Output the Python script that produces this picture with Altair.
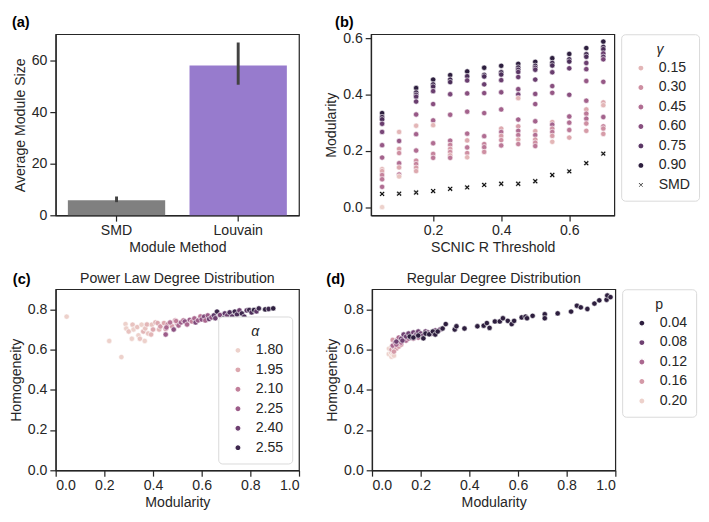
import math
import altair as alt
import pandas as pd

FONT = "Liberation Sans"
TXT = "#262626"

# ---------------- panel (a) ----------------
a_methods = ["SMD", "Louvain"]
a_means = [5.8, 58.2]
a_lo = [5.1, 50.7]
a_hi = [7.3, 67.1]

# ---------------- panel (b) ----------------
b_thresholds = [0.05, 0.10, 0.15, 0.20, 0.25, 0.30, 0.35, 0.40, 0.45, 0.50, 0.55, 0.60, 0.65, 0.70]
b_mod = [
    [0.334, 0.320, 0.312, 0.296, 0.267, 0.220, 0.176, 0.135, 0.128, 0.114, 0.099, 0.072, 0.000],
    [0.267, 0.235, 0.207, 0.192, 0.156, 0.141, 0.116, 0.109],
    [0.423, 0.407, 0.399, 0.392, 0.375, 0.329, 0.289, 0.259, 0.201, 0.165, 0.153, 0.140, 0.128],
    [0.453, 0.436, 0.428, 0.412, 0.366, 0.308, 0.291, 0.227, 0.189, 0.175],
    [0.469, 0.453, 0.444, 0.401, 0.328, 0.236, 0.221, 0.207, 0.196, 0.184, 0.175],
    [0.482, 0.465, 0.450, 0.404, 0.339, 0.261, 0.237, 0.212, 0.192, 0.177],
    [0.495, 0.470, 0.464, 0.436, 0.405, 0.334, 0.252, 0.224, 0.213, 0.196],
    [0.502, 0.479, 0.471, 0.451, 0.408, 0.347, 0.279, 0.267, 0.253, 0.238, 0.219],
    [0.509, 0.496, 0.488, 0.480, 0.462, 0.419, 0.400, 0.387, 0.311, 0.287, 0.271, 0.256, 0.240, 0.224],
    [0.516, 0.502, 0.495, 0.488, 0.453, 0.402, 0.366, 0.305, 0.270, 0.256, 0.240, 0.229, 0.217],
    [0.529, 0.512, 0.503, 0.479, 0.430, 0.406, 0.302, 0.293, 0.279, 0.267, 0.253, 0.232],
    [0.544, 0.525, 0.517, 0.493, 0.399, 0.322, 0.300, 0.274, 0.247],
    [0.565, 0.543, 0.534, 0.512, 0.490, 0.448, 0.378, 0.347, 0.332, 0.314, 0.297, 0.271],
    [0.588, 0.569, 0.561, 0.546, 0.534, 0.525, 0.445, 0.372, 0.362, 0.320, 0.287, 0.279, 0.260],
]
b_gamma = [
    [0.90, 0.85, 0.80, 0.70, 0.65, 0.55, 0.50, 0.15, 0.20, 0.35, 0.40, 0.45, 0.05],
    [0.15, 0.55, 0.25, 0.30, 0.45, 0.20, 0.40, 0.10],
    [0.90, 0.85, 0.80, 0.75, 0.70, 0.55, 0.15, 0.50, 0.45, 0.30, 0.35, 0.25, 0.20],
    [0.90, 0.85, 0.80, 0.70, 0.60, 0.50, 0.15, 0.45, 0.35, 0.40],
    [0.90, 0.85, 0.80, 0.65, 0.50, 0.45, 0.35, 0.25, 0.30, 0.20, 0.40],
    [0.90, 0.80, 0.70, 0.60, 0.50, 0.45, 0.20, 0.40, 0.30, 0.15],
    [0.90, 0.85, 0.80, 0.70, 0.60, 0.50, 0.45, 0.35, 0.40, 0.30],
    [0.90, 0.85, 0.80, 0.70, 0.60, 0.50, 0.20, 0.45, 0.25, 0.30, 0.40],
    [0.90, 0.85, 0.80, 0.75, 0.70, 0.60, 0.65, 0.15, 0.50, 0.25, 0.45, 0.40, 0.20, 0.35],
    [0.90, 0.85, 0.80, 0.75, 0.70, 0.60, 0.55, 0.50, 0.20, 0.45, 0.25, 0.30, 0.40],
    [0.90, 0.85, 0.80, 0.70, 0.60, 0.55, 0.20, 0.50, 0.30, 0.40, 0.25, 0.15],
    [0.90, 0.85, 0.80, 0.70, 0.60, 0.50, 0.45, 0.40, 0.20],
    [0.90, 0.85, 0.80, 0.70, 0.65, 0.55, 0.50, 0.20, 0.40, 0.45, 0.30, 0.25],
    [0.90, 0.85, 0.80, 0.70, 0.75, 0.65, 0.55, 0.20, 0.15, 0.50, 0.35, 0.30, 0.25],
]
b_smd = [0.047, 0.048, 0.052, 0.057, 0.065, 0.070, 0.079, 0.083, 0.083, 0.092, 0.114, 0.127, 0.156, 0.190]
b_levels = ["0.05", "0.10", "0.15", "0.20", "0.25", "0.30", "0.35", "0.40", "0.45",
            "0.50", "0.55", "0.60", "0.65", "0.70", "0.75", "0.80", "0.85", "0.90"]
b_legend = ["0.15", "0.30", "0.45", "0.60", "0.75", "0.90", "SMD"]

# ---------------- panel (c) ----------------
c_mod = [0.045, 0.220, 0.270,
         0.287, 0.290, 0.300, 0.313, 0.316, 0.320, 0.335, 0.340, 0.346, 0.353, 0.360, 0.366, 0.368,
         0.375, 0.380, 0.392, 0.395, 0.400, 0.410, 0.419, 0.425, 0.430, 0.445, 0.452, 0.460, 0.478,
         0.491, 0.500,
         0.452, 0.455, 0.470, 0.485, 0.495, 0.505, 0.515, 0.525, 0.531, 0.540, 0.551, 0.560, 0.570,
         0.575, 0.585, 0.595, 0.600, 0.610, 0.615, 0.625, 0.630, 0.640,
         0.650, 0.656, 0.663, 0.675, 0.690, 0.695, 0.705, 0.715, 0.725, 0.736, 0.745, 0.755, 0.765,
         0.775, 0.785, 0.795, 0.805, 0.815, 0.825, 0.835, 0.861, 0.875, 0.894]
c_hom = [0.764, 0.643, 0.563,
         0.727, 0.705, 0.690, 0.654, 0.724, 0.700, 0.712, 0.671, 0.654, 0.724, 0.690, 0.643, 0.705,
         0.725, 0.680, 0.675, 0.724, 0.700, 0.735, 0.732, 0.700, 0.715, 0.732, 0.703, 0.725, 0.716,
         0.745, 0.728,
         0.675, 0.710, 0.735, 0.700, 0.742, 0.720, 0.735, 0.745, 0.740, 0.725, 0.748, 0.740, 0.755,
         0.735, 0.745, 0.765, 0.750, 0.764, 0.745, 0.770, 0.752, 0.760,
         0.770, 0.756, 0.789, 0.772, 0.756, 0.780, 0.770, 0.785, 0.765, 0.789, 0.775, 0.795, 0.780,
         0.764, 0.795, 0.797, 0.785, 0.797, 0.790, 0.805, 0.800, 0.802, 0.805]
c_alpha = [1.80, 1.80, 1.80,
           1.80, 1.80, 1.85, 1.80, 1.85, 1.80, 1.85, 1.80, 1.85, 1.80, 1.90, 1.80, 1.85,
           1.90, 1.85, 1.90, 1.85, 1.95, 1.90, 1.95, 1.90, 2.00, 1.95, 2.00, 2.05, 2.00,
           2.05, 2.05,
           2.25, 2.20, 2.15, 2.30, 2.10, 2.20, 2.25, 2.15, 2.30, 2.20, 2.25, 2.10, 2.20,
           2.35, 2.25, 2.15, 2.30, 2.35, 2.20, 2.25, 2.40, 2.30,
           2.45, 2.40, 2.55, 2.35, 2.50, 2.45, 2.40, 2.50, 2.45, 2.55, 2.50, 2.40, 2.55,
           2.50, 2.45, 2.55, 2.50, 2.60, 2.45, 2.55, 2.60, 2.55, 2.60]
c_levels = ["1.80", "1.85", "1.90", "1.95", "2.00", "2.05", "2.10", "2.15", "2.20",
            "2.25", "2.30", "2.35", "2.40", "2.45", "2.50", "2.55", "2.60"]
c_legend = ["1.80", "1.95", "2.10", "2.25", "2.40", "2.55"]

# ---------------- panel (d) ----------------
d_mod = [0.069, 0.075, 0.080, 0.078, 0.085, 0.070, 0.080, 0.090,
         0.080, 0.085, 0.090, 0.095, 0.100, 0.105, 0.110, 0.120, 0.090,
         0.085, 0.095, 0.105, 0.110, 0.120, 0.130, 0.140, 0.150, 0.160, 0.170, 0.190, 0.100,
         0.100, 0.120, 0.130, 0.140, 0.150, 0.160, 0.170, 0.180, 0.190, 0.200, 0.210, 0.220,
         0.230, 0.245, 0.260, 0.280, 0.125, 0.175,
         0.155, 0.170, 0.190, 0.211, 0.220, 0.235, 0.250, 0.260, 0.270, 0.290, 0.303, 0.340,
         0.347, 0.380, 0.433, 0.459, 0.472, 0.483, 0.505, 0.525, 0.538, 0.558, 0.574, 0.584,
         0.615, 0.631, 0.637, 0.660, 0.710, 0.710, 0.763, 0.818, 0.842, 0.858, 0.885, 0.914,
         0.934, 0.964, 0.967, 0.980]
d_hom = [0.578, 0.600, 0.565, 0.585, 0.575, 0.605, 0.615, 0.570,
         0.600, 0.648, 0.610, 0.620, 0.605, 0.630, 0.615, 0.625, 0.590,
         0.620, 0.635, 0.650, 0.660, 0.635, 0.650, 0.645, 0.655, 0.670, 0.655, 0.660, 0.625,
         0.640, 0.655, 0.675, 0.665, 0.680, 0.660, 0.685, 0.675, 0.690, 0.680, 0.670, 0.690,
         0.685, 0.680, 0.695, 0.700, 0.645, 0.665,
         0.665, 0.660, 0.670, 0.656, 0.680, 0.676, 0.690, 0.675, 0.690, 0.705, 0.727, 0.700,
         0.716, 0.705, 0.716, 0.719, 0.732, 0.708, 0.740, 0.740, 0.756, 0.743, 0.727, 0.743,
         0.760, 0.764, 0.756, 0.768, 0.776, 0.756, 0.780, 0.789, 0.818, 0.810, 0.802, 0.829,
         0.845, 0.848, 0.869, 0.861]
d_p = [0.20, 0.20, 0.20, 0.20, 0.20, 0.20, 0.20, 0.20,
       0.16, 0.16, 0.16, 0.16, 0.16, 0.16, 0.16, 0.16, 0.16,
       0.12, 0.12, 0.12, 0.12, 0.12, 0.12, 0.12, 0.12, 0.12, 0.12, 0.12, 0.12,
       0.08, 0.08, 0.08, 0.08, 0.08, 0.08, 0.08, 0.08, 0.08, 0.08, 0.08, 0.08,
       0.08, 0.08, 0.08, 0.08, 0.08, 0.08,
       0.04, 0.04, 0.04, 0.04, 0.04, 0.04, 0.04, 0.04, 0.04, 0.04, 0.04, 0.04,
       0.04, 0.04, 0.04, 0.04, 0.04, 0.04, 0.04, 0.04, 0.04, 0.04, 0.04, 0.04,
       0.04, 0.04, 0.04, 0.04, 0.04, 0.04, 0.04, 0.04, 0.04, 0.04, 0.04, 0.04,
       0.04, 0.04, 0.04, 0.04]
d_levels = ["0.04", "0.08", "0.12", "0.16", "0.20"]


# ---------------- styling helpers ----------------
def cubehelix_hex(t):
    """seaborn default cubehelix map: t=0 light, t=1 dark."""
    x = 0.85 - 0.7 * t
    a = 0.8 * x * (1 - x) / 2
    phi = 2 * math.pi * (0.4 * x)
    r = x + a * (-0.14861 * math.cos(phi) + 1.78277 * math.sin(phi))
    g = x + a * (-0.29227 * math.cos(phi) - 0.90649 * math.sin(phi))
    b = x + a * (1.97294 * math.cos(phi))
    vals = [max(0, min(1, v)) for v in (r, g, b)]
    return "#" + "".join(f"{int(round(v * 255)):02x}" for v in vals)


X_SHAPE = ("M-1,-0.55L-0.55,-1L0,-0.45L0.55,-1L1,-0.55L0.45,0L1,0.55L0.55,1"
           "L0,0.45L-0.55,1L-1,0.55L-0.45,0Z")

PW, PH = 250, 186
POINT_SIZE = 30


def panel_label(txt, dx, dy):
    return alt.Chart(pd.DataFrame({"t": [txt]})).mark_text(
        font=FONT, fontSize=15, fontWeight="bold", color="black",
        align="left", baseline="alphabetic"
    ).encode(x=alt.value(dx), y=alt.value(dy), text="t:N")


def heading(txt):
    return alt.Chart(pd.DataFrame({"t": [txt]})).mark_text(
        font=FONT, fontSize=14.5, color=TXT, align="center", baseline="alphabetic"
    ).encode(x=alt.value(PW / 2), y=alt.value(-6), text="t:N")


def legend(title, values, orient="right", italic=True):
    return alt.Legend(
        title=title, values=values, orient=orient, offset=7,
        titleFontStyle="italic" if italic else "normal",
        titleAnchor="middle", titleAlign="center", titleFontSize=14.5, titleFontWeight="normal",
        titleColor=TXT, titleFont=FONT, titlePadding=4,
        labelFontSize=14.5, labelColor=TXT, labelFont=FONT, labelOffset=11,
        symbolSize=42, symbolOffset=4, rowPadding=5, padding=9,
        strokeColor="#d9d9d9", fillColor="white", cornerRadius=4,
    )


# ---------------- panel (a) chart ----------------
dfa = pd.DataFrame({"method": a_methods, "size": a_means, "lo": a_lo, "hi": a_hi})
xa = alt.X("method:N", sort=a_methods,
           scale=alt.Scale(paddingInner=0.2, paddingOuter=0.1),
           axis=alt.Axis(title="Module Method", labelAngle=0))
bars = alt.Chart(dfa).mark_bar().encode(
    x=xa,
    y=alt.Y("size:Q", scale=alt.Scale(domain=[0, 70.3], nice=False),
            axis=alt.Axis(title="Average Module Size", values=[0, 20, 40, 60])),
    color=alt.Color("method:N", scale=alt.Scale(domain=a_methods, range=["#808080", "#977bcd"]),
                    legend=None),
)
errs = alt.Chart(dfa).mark_rule(color="#424242", strokeWidth=3).encode(
    x=xa, y=alt.Y("lo:Q"), y2="hi:Q")
chart_a = alt.layer(bars, errs, panel_label("(a)", -45, -7)).properties(width=PW, height=PH)

# ---------------- panel (b) chart ----------------
rows = []
for thr, mods, gams in zip(b_thresholds, b_mod, b_gamma):
    for m, g in zip(mods, gams):
        rows.append({"thr": thr, "mod": m, "g": f"{g:.2f}"})
for thr, m in zip(b_thresholds, b_smd):
    rows.append({"thr": thr, "mod": m, "g": "SMD"})
dfb = pd.DataFrame(rows)
b_domain = b_levels + ["SMD"]
b_colors = [cubehelix_hex((float(v) - 0.05) / 0.85) for v in b_levels] + ["#111111"]
b_shapes = ["circle"] * len(b_levels) + [X_SHAPE]
lg_b = legend("γ", b_legend)
pts_b = alt.Chart(dfb).mark_point(filled=True, size=POINT_SIZE, opacity=1,
                                  stroke="white", strokeWidth=0.6).encode(
    x=alt.X("thr:Q", scale=alt.Scale(domain=[0.0175, 0.7325], nice=False, zero=False),
            axis=alt.Axis(title="SCNIC R Threshold", values=[0.2, 0.4, 0.6], format=".1f")),
    y=alt.Y("mod:Q", scale=alt.Scale(domain=[-0.029, 0.614], nice=False, zero=False),
            axis=alt.Axis(title="Modularity", values=[0.0, 0.2, 0.4, 0.6], format=".1f")),
    color=alt.Color("g:N", scale=alt.Scale(domain=b_domain, range=b_colors), legend=lg_b),
    shape=alt.Shape("g:N", scale=alt.Scale(domain=b_domain, range=b_shapes), legend=lg_b),
)
chart_b = alt.layer(pts_b, panel_label("(b)", -37, -7)).properties(width=PW, height=PH)

# ---------------- panel (c) chart ----------------
dfc = pd.DataFrame({"mod": c_mod, "hom": c_hom, "a": [f"{v:.2f}" for v in c_alpha]})
c_colors = [cubehelix_hex((float(v) - 1.80) / 0.80) for v in c_levels]
xmod = alt.X("mod:Q", scale=alt.Scale(domain=[0, 1], nice=False),
             axis=alt.Axis(title="Modularity", values=[0, 0.2, 0.4, 0.6, 0.8, 1.0], format=".1f"))
yhom = alt.Y("hom:Q", scale=alt.Scale(domain=[0, 0.9], nice=False),
             axis=alt.Axis(title="Homogeneity", values=[0, 0.2, 0.4, 0.6, 0.8], format=".1f"))
pts_c = alt.Chart(dfc).mark_point(filled=True, size=POINT_SIZE, opacity=1,
                                  stroke="white", strokeWidth=0.6).encode(
    x=xmod, y=yhom,
    color=alt.Color("a:N", scale=alt.Scale(domain=c_levels, range=c_colors),
                    legend=legend("α", c_legend, orient="bottom-right")),
)
chart_c = alt.layer(pts_c, heading("Power Law Degree Distribution"),
                    panel_label("(c)", -44, -5)).properties(width=PW, height=PH)

# ---------------- panel (d) chart ----------------
dfd = pd.DataFrame({"mod": d_mod, "hom": d_hom, "p": [f"{v:.2f}" for v in d_p]})
d_colors = [cubehelix_hex((0.20 - float(v)) / 0.16) for v in d_levels]
pts_d = alt.Chart(dfd).mark_point(filled=True, size=POINT_SIZE, opacity=1,
                                  stroke="white", strokeWidth=0.6).encode(
    x=xmod, y=yhom,
    color=alt.Color("p:N", scale=alt.Scale(domain=d_levels, range=d_colors),
                    legend=legend("p", d_levels, italic=False)),
)
chart_d = alt.layer(pts_d, heading("Regular Degree Distribution"),
                    panel_label("(d)", -47, -5)).properties(width=PW, height=PH)

top = alt.hconcat(chart_a, chart_b, spacing=24).resolve_scale(
    x="independent", y="independent", color="independent", shape="independent")
bottom = alt.hconcat(chart_c, chart_d, spacing=24).resolve_scale(
    x="independent", y="independent", color="independent")

chart = alt.vconcat(top, bottom, spacing=16).resolve_scale(
    x="independent", y="independent", color="independent", shape="independent"
).properties(padding=0).configure_view(
    stroke=TXT, strokeWidth=1.25
).configure_axis(
    domainColor=TXT, domainWidth=1.25, tickColor=TXT, tickWidth=1.25, tickSize=6,
    labelColor=TXT, labelFont=FONT, labelFontSize=14.5, labelPadding=3,
    titleColor=TXT, titleFont=FONT, titleFontSize=14.5, titleFontWeight="normal", titlePadding=4,
    grid=False,
)

chart.save("out.html", embed_options={"renderer": "svg", "actions": False})
